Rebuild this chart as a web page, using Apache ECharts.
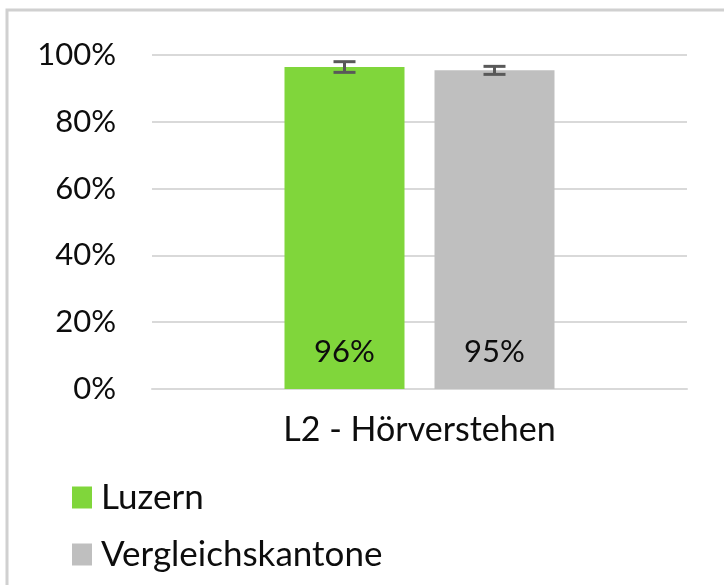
<!DOCTYPE html>
<html>
<head>
<meta charset="utf-8">
<script src="https://cdn.jsdelivr.net/npm/echarts@6/dist/echarts.min.js"></script>
<style>
  html, body { margin: 0; padding: 0; background: #fff; }
  #chart { width: 724px; height: 585px; }
</style>
</head>
<body>
<div id="chart"></div>
<script>
// data
var categories = ['L2 - Hörverstehen'];
var seriesNames = ['Luzern', 'Vergleichskantone'];
var luzern = [96.4];
var vergleich = [95.4];
var luzernErr = [[94.8, 98.0]];
var vergleichErr = [[94.2, 96.6]];
var yTicks = [0, 20, 40, 60, 80, 100];

var FONT = 'Lato';
var TXT = '#0d0d0d';
var colors = ['#80d63b', '#bfbfbf'];

var chart = echarts.init(document.getElementById('chart'));

function errData(errs, idx) {
    return errs.map(function (e, i) { return [i, e[0], e[1], idx]; });
}

function renderErr(params, api) {
    var off = api.value(3) === 0 ? -75 : 75;
    var lo = api.coord([api.value(0), api.value(1)]);
    var hi = api.coord([api.value(0), api.value(2)]);
    var x = lo[0] + off;
    var half = 11;
    var style = { stroke: '#595959', lineWidth: 3 };
    return {
        type: 'group',
        children: [
            { type: 'line', shape: { x1: x, y1: lo[1], x2: x, y2: hi[1] }, style: style },
            { type: 'line', shape: { x1: x - half, y1: lo[1], x2: x + half, y2: lo[1] }, style: style },
            { type: 'line', shape: { x1: x - half, y1: hi[1], x2: x + half, y2: hi[1] }, style: style }
        ]
    };
}

var barLabel = {
    show: true,
    position: 'insideBottom',
    distance: 22,
    fontFamily: FONT,
    fontSize: 31,
    color: TXT,
    formatter: function (p) { return Math.round(p.value) + '%'; }
};

function legendFor(name, top) {
    return {
        left: 67,
        top: top,
        itemWidth: 20,
        itemHeight: 22,
        icon: 'rect',
        data: [name],
        textStyle: { fontFamily: FONT, fontSize: 35, color: TXT, padding: [0, 0, 0, 4] }
    };
}

var option = {
    animation: false,
    graphic: [{
        type: 'rect',
        shape: { x: 7, y: 10, width: 800, height: 700 },
        style: { fill: 'none', stroke: '#d0d0d0', lineWidth: 3 },
        silent: true
    }],
    grid: { left: 152, right: 37, top: 55, bottom: 196 },
    legend: [legendFor(seriesNames[0], 475), legendFor(seriesNames[1], 532)],
    xAxis: {
        type: 'category',
        data: categories,
        axisLine: { show: true, lineStyle: { color: '#d9d9d9', width: 2 } },
        axisTick: { show: false },
        axisLabel: { fontFamily: FONT, fontSize: 34, color: TXT, margin: 24 }
    },
    yAxis: {
        type: 'value',
        min: yTicks[0],
        max: yTicks[yTicks.length - 1],
        interval: 20,
        axisLine: { show: false },
        axisTick: { show: false },
        splitLine: { lineStyle: { color: '#d9d9d9', width: 2 } },
        axisLabel: { fontFamily: FONT, fontSize: 31, color: TXT, margin: 36, formatter: '{value}%' }
    },
    series: [
        { name: seriesNames[0], type: 'bar', data: luzern, barWidth: 120, barGap: '25%',
          itemStyle: { color: colors[0] }, label: barLabel },
        { name: seriesNames[1], type: 'bar', data: vergleich, barWidth: 120,
          itemStyle: { color: colors[1] }, label: barLabel },
        { type: 'custom', renderItem: renderErr, data: errData(luzernErr, 0).concat(errData(vergleichErr, 1)),
          encode: { x: 0, y: [1, 2] }, z: 10 }
    ]
};

chart.setOption(option);
</script>
</body>
</html>
